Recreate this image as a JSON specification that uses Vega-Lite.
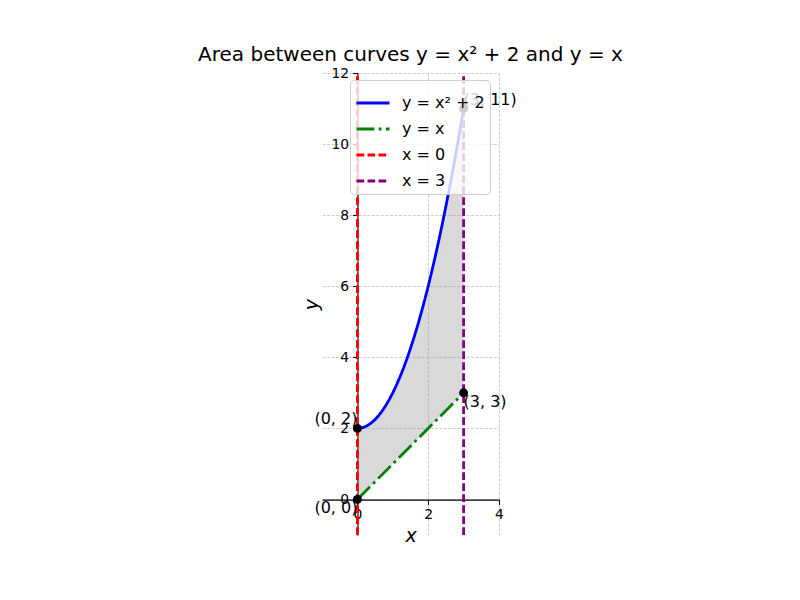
{
  "$schema": "https://vega.github.io/schema/vega-lite/v6.json",
  "width": 177,
  "height": 462,
  "autosize": {"type": "none"},
  "padding": {"left": 322, "top": 73, "right": 301, "bottom": 65},
  "background": "white",
  "title": {
    "text": "Area between curves y = x² + 2 and y = x",
    "font": "DejaVu Sans",
    "fontSize": 20,
    "fontWeight": "normal",
    "color": "black",
    "anchor": "middle",
    "frame": "group",
    "offset": 1
  },
  "config": {
    "view": {"stroke": null},
    "font": "DejaVu Sans"
  },
  "datasets": {
    "band": [
      {"x": 0.0, "y": 2.0, "y2": 0.0},
      {"x": 0.1, "y": 2.01, "y2": 0.1},
      {"x": 0.2, "y": 2.04, "y2": 0.2},
      {"x": 0.3, "y": 2.09, "y2": 0.3},
      {"x": 0.4, "y": 2.16, "y2": 0.4},
      {"x": 0.5, "y": 2.25, "y2": 0.5},
      {"x": 0.6, "y": 2.36, "y2": 0.6},
      {"x": 0.7, "y": 2.49, "y2": 0.7},
      {"x": 0.8, "y": 2.64, "y2": 0.8},
      {"x": 0.9, "y": 2.81, "y2": 0.9},
      {"x": 1.0, "y": 3.0, "y2": 1.0},
      {"x": 1.1, "y": 3.21, "y2": 1.1},
      {"x": 1.2, "y": 3.44, "y2": 1.2},
      {"x": 1.3, "y": 3.69, "y2": 1.3},
      {"x": 1.4, "y": 3.96, "y2": 1.4},
      {"x": 1.5, "y": 4.25, "y2": 1.5},
      {"x": 1.6, "y": 4.56, "y2": 1.6},
      {"x": 1.7, "y": 4.89, "y2": 1.7},
      {"x": 1.8, "y": 5.24, "y2": 1.8},
      {"x": 1.9, "y": 5.61, "y2": 1.9},
      {"x": 2.0, "y": 6.0, "y2": 2.0},
      {"x": 2.1, "y": 6.41, "y2": 2.1},
      {"x": 2.2, "y": 6.84, "y2": 2.2},
      {"x": 2.3, "y": 7.29, "y2": 2.3},
      {"x": 2.4, "y": 7.76, "y2": 2.4},
      {"x": 2.5, "y": 8.25, "y2": 2.5},
      {"x": 2.6, "y": 8.76, "y2": 2.6},
      {"x": 2.7, "y": 9.29, "y2": 2.7},
      {"x": 2.8, "y": 9.84, "y2": 2.8},
      {"x": 2.9, "y": 10.41, "y2": 2.9},
      {"x": 3.0, "y": 11.0, "y2": 3.0}
    ],
    "curves": [
      {"series": "y = x² + 2", "x": 0.0, "y": 2.0},
      {"series": "y = x² + 2", "x": 0.1, "y": 2.01},
      {"series": "y = x² + 2", "x": 0.2, "y": 2.04},
      {"series": "y = x² + 2", "x": 0.3, "y": 2.09},
      {"series": "y = x² + 2", "x": 0.4, "y": 2.16},
      {"series": "y = x² + 2", "x": 0.5, "y": 2.25},
      {"series": "y = x² + 2", "x": 0.6, "y": 2.36},
      {"series": "y = x² + 2", "x": 0.7, "y": 2.49},
      {"series": "y = x² + 2", "x": 0.8, "y": 2.64},
      {"series": "y = x² + 2", "x": 0.9, "y": 2.81},
      {"series": "y = x² + 2", "x": 1.0, "y": 3.0},
      {"series": "y = x² + 2", "x": 1.1, "y": 3.21},
      {"series": "y = x² + 2", "x": 1.2, "y": 3.44},
      {"series": "y = x² + 2", "x": 1.3, "y": 3.69},
      {"series": "y = x² + 2", "x": 1.4, "y": 3.96},
      {"series": "y = x² + 2", "x": 1.5, "y": 4.25},
      {"series": "y = x² + 2", "x": 1.6, "y": 4.56},
      {"series": "y = x² + 2", "x": 1.7, "y": 4.89},
      {"series": "y = x² + 2", "x": 1.8, "y": 5.24},
      {"series": "y = x² + 2", "x": 1.9, "y": 5.61},
      {"series": "y = x² + 2", "x": 2.0, "y": 6.0},
      {"series": "y = x² + 2", "x": 2.1, "y": 6.41},
      {"series": "y = x² + 2", "x": 2.2, "y": 6.84},
      {"series": "y = x² + 2", "x": 2.3, "y": 7.29},
      {"series": "y = x² + 2", "x": 2.4, "y": 7.76},
      {"series": "y = x² + 2", "x": 2.5, "y": 8.25},
      {"series": "y = x² + 2", "x": 2.6, "y": 8.76},
      {"series": "y = x² + 2", "x": 2.7, "y": 9.29},
      {"series": "y = x² + 2", "x": 2.8, "y": 9.84},
      {"series": "y = x² + 2", "x": 2.9, "y": 10.41},
      {"series": "y = x² + 2", "x": 3.0, "y": 11.0},
      {"series": "y = x", "x": 0, "y": 0},
      {"series": "y = x", "x": 3, "y": 3},
      {"series": "x = 0", "x": 0, "y": -1},
      {"series": "x = 0", "x": 0, "y": 12},
      {"series": "x = 3", "x": 3, "y": -1},
      {"series": "x = 3", "x": 3, "y": 12}
    ],
    "points": [
      {"label": "(0, 0)", "x": 0, "y": 0},
      {"label": "(0, 2)", "x": 0, "y": 2},
      {"label": "(3, 3)", "x": 3, "y": 3},
      {"label": "(3, 11)", "x": 3, "y": 11}
    ]
  },
  "encoding": {
    "x": {
      "field": "x",
      "type": "quantitative",
      "scale": {"domain": [-1, 4], "nice": false, "zero": false},
      "axis": {
        "title": "x",
        "offset": -35.4,
        "values": [0, 2, 4],
        "grid": true,
        "gridColor": "#b8b8b8",
        "gridWidth": 0.7,
        "gridDash": [3, 1.5],
        "domainColor": "black",
        "domainWidth": 1.1,
        "tickColor": "black",
        "tickWidth": 1.1,
        "tickSize": 4.9,
        "labelPadding": 3,
        "labelFlush": false,
        "labelFont": "DejaVu Sans",
        "labelFontSize": 13.9,
        "labelColor": "black",
        "titleFont": "DejaVu Sans",
        "titleFontSize": 19,
        "titleFontStyle": "italic",
        "titleFontWeight": "normal",
        "titleColor": "black",
        "titlePadding": 5
      }
    },
    "y": {
      "field": "y",
      "type": "quantitative",
      "scale": {"domain": [-1, 12], "nice": false, "zero": false},
      "axis": {
        "title": "y",
        "offset": -35.5,
        "values": [0, 2, 4, 6, 8, 10, 12],
        "grid": true,
        "gridColor": "#b8b8b8",
        "gridWidth": 0.7,
        "gridDash": [3, 1.5],
        "domainColor": "black",
        "domainWidth": 1.1,
        "tickColor": "black",
        "tickWidth": 1.1,
        "tickSize": 4.9,
        "labelPadding": 4,
        "labelFlush": false,
        "labelFont": "DejaVu Sans",
        "labelFontSize": 13.9,
        "labelColor": "black",
        "titleFont": "DejaVu Sans",
        "titleFontSize": 19,
        "titleFontStyle": "italic",
        "titleFontWeight": "normal",
        "titleColor": "black",
        "titlePadding": 9
      }
    }
  },
  "layer": [
    {
      "data": {"name": "band"},
      "mark": {"type": "area", "color": "#808080", "opacity": 0.3},
      "encoding": {
        "y2": {"field": "y2"}
      }
    },
    {
      "data": {"name": "curves"},
      "mark": {"type": "line"},
      "encoding": {
        "order": {"field": "y", "type": "quantitative"},
        "color": {
          "field": "series",
          "type": "nominal",
          "scale": {
            "domain": ["y = x² + 2", "y = x", "x = 0", "x = 3"],
            "range": ["#0000ff", "#008000", "#ff0000", "#800080"]
          },
          "legend": {
            "title": null,
            "orient": "none",
            "legendX": 28,
            "legendY": 7,
            "symbolType": "stroke",
            "symbolSize": 1089,
            "labelFont": "DejaVu Sans",
            "labelFontSize": 16,
            "labelColor": "black",
            "labelOffset": 11,
            "labelLimit": 300,
            "rowPadding": 0,
            "padding": 5,
            "fillColor": "rgba(255,255,255,0.8)",
            "strokeColor": "#cccccc",
            "cornerRadius": 4
          }
        },
        "strokeDash": {
          "field": "series",
          "type": "nominal",
          "scale": {
            "domain": ["y = x² + 2", "y = x", "x = 0", "x = 3"],
            "range": [[1, 0], [17.8, 4.4, 2.8, 4.4], [7.7, 3.3], [7.7, 3.3]]
          }
        },
        "strokeWidth": {
          "field": "series",
          "type": "nominal",
          "scale": {
            "domain": ["y = x² + 2", "y = x", "x = 0", "x = 3"],
            "range": [2.8, 2.8, 2.1, 2.1]
          }
        }
      }
    },
    {
      "data": {"name": "points"},
      "mark": {"type": "point", "filled": true, "color": "black", "opacity": 1, "size": 80}
    },
    {
      "data": {"name": "points"},
      "transform": [{"filter": "datum.label == '(0, 2)'"}],
      "mark": {"type": "text", "align": "right", "baseline": "bottom", "dy": -1, "fontSize": 16, "font": "DejaVu Sans", "color": "black"},
      "encoding": {"text": {"field": "label"}}
    },
    {
      "data": {"name": "points"},
      "transform": [{"filter": "datum.label == '(0, 0)'"}],
      "mark": {"type": "text", "align": "right", "baseline": "top", "dy": 1, "fontSize": 16, "font": "DejaVu Sans", "color": "black"},
      "encoding": {"text": {"field": "label"}}
    },
    {
      "data": {"name": "points"},
      "transform": [{"filter": "datum.label == '(3, 3)'"}],
      "mark": {"type": "text", "align": "left", "baseline": "top", "dy": 1, "fontSize": 16, "font": "DejaVu Sans", "color": "black"},
      "encoding": {"text": {"field": "label"}}
    },
    {
      "data": {"name": "points"},
      "transform": [{"filter": "datum.label == '(3, 11)'"}],
      "mark": {"type": "text", "align": "left", "baseline": "bottom", "dy": -1, "fontSize": 16, "font": "DejaVu Sans", "color": "black"},
      "encoding": {"text": {"field": "label"}}
    }
  ]
}
